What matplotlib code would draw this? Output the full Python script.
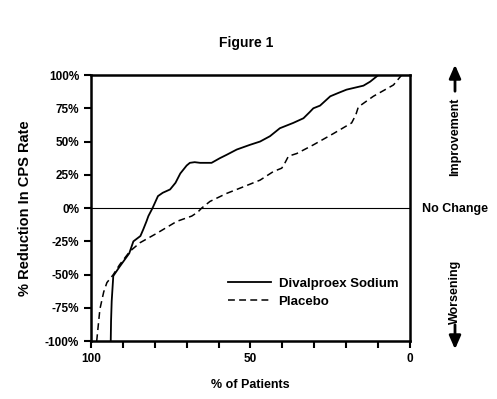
import matplotlib.pyplot as plt
from matplotlib.patches import FancyArrowPatch

plt.rcParams["font.family"] = ["Liberation Sans", "DejaVu Sans"]
plt.rcParams["font.weight"] = "bold"

# % of patients vs % reduction in CPS rate
diva_x = [93.8, 93.7, 93.5, 93.0, 91.0, 88.0, 86.7, 84.5, 83.6, 82.6, 82.0, 80.7,
          79.0, 77.5, 75.2, 73.5, 72.0, 70.0, 69.0, 67.5, 65.8, 62.2, 59.6, 57.5,
          54.3, 50.2, 47.0, 43.9, 40.8, 36.6, 33.4, 31.5, 30.3, 28.2, 25.0, 22.5,
          19.9, 14.6, 12.5, 9.9]
diva_y = [-100, -85, -70, -51, -44, -34, -25, -21, -16, -10, -6, 0,
          9, 11.5, 14, 19, 26, 32, 34, 34.5, 34, 34, 37.5, 40,
          44, 47.5, 50, 54, 60, 64, 67.5, 72, 75, 77, 84, 86.5,
          89, 92, 95, 100]

plac_x = [98.2, 97.7, 97.2, 96.0, 95.0, 93.0, 91.0, 87.8, 84.6, 79.4, 73.1, 68.4,
          66.5, 65.3, 62.7, 57.5, 52.2, 47.0, 42.8, 40.2, 39.3, 38.1, 35.5, 30.3,
          24.0, 18.3, 17.0, 16.2, 11.5, 5.2, 2.6]
plac_y = [-100, -88, -76, -63, -56, -50, -42.5, -32.5, -26, -19, -10, -6,
          -3, 0, 5, 11, 16, 21, 27.5, 30, 33.5, 39, 41, 47.5,
          56, 64, 70, 76, 84, 92.5, 100]

y_ticks = [-100, -75, -50, -25, 0, 25, 50, 75, 100]

fig = plt.figure(figsize=(4.97, 3.99), dpi=100)
ax = fig.add_axes([0.183, 0.145, 0.642, 0.667])

ax.plot(diva_x, diva_y, color="black", lw=1.3, label="Divalproex Sodium")
ax.plot(plac_x, plac_y, color="black", lw=1.1, ls=(0, (4.5, 2.8)), label="Placebo")
ax.axhline(0, color="black", lw=0.8)

ax.set_xlim(100, 0)
ax.set_ylim(-100, 100)
ax.set_xticks([100, 50, 0])
ax.set_xticks(range(0, 101, 10), minor=True)
ax.set_yticks(y_ticks)
ax.set_yticklabels(["{}%".format(v) for v in y_ticks])
ax.tick_params(axis="both", which="both", direction="out", width=1.5, labelsize=8.5)
ax.tick_params(axis="both", which="major", length=5)
ax.tick_params(axis="x", which="minor", length=5)
for s in ax.spines.values():
    s.set_linewidth(1.8)

ax.set_xlabel("% of Patients", fontsize=9, fontweight="bold", labelpad=10)
ax.set_ylabel("% Reduction In CPS Rate", fontsize=10.5, fontweight="bold", labelpad=9)
ax.set_title("Figure 1", fontsize=10, fontweight="bold", pad=20, x=0.485)

ax.legend(loc="lower right", bbox_to_anchor=(1.0, 0.08), frameon=False,
          handlelength=3.3, prop={"weight": "bold", "size": 9.5},
          labelspacing=0.45, handletextpad=0.55)

# right side annotations
fig.text(455 / 497, 1 - 137 / 399, "Improvement", rotation=90, ha="center", va="center",
         fontsize=9, fontweight="bold")
fig.text(455 / 497, 1 - 209 / 399, "No Change", ha="center", va="center",
         fontsize=9, fontweight="bold")
fig.text(455 / 497, 1 - 292 / 399, "Worsening", rotation=90, ha="center", va="center",
         fontsize=9, fontweight="bold")
arrow = dict(arrowstyle="-|>,head_length=0.8,head_width=0.35", color="black", lw=2.0)
fig.add_artist(FancyArrowPatch((455 / 497, 1 - 94 / 399), (455 / 497, 1 - 62 / 399),
                               transform=fig.transFigure, mutation_scale=10, **arrow))
fig.add_artist(FancyArrowPatch((455 / 497, 1 - 322 / 399), (455 / 497, 1 - 352 / 399),
                               transform=fig.transFigure, mutation_scale=10, **arrow))

plt.savefig("out.png", dpi=100)
